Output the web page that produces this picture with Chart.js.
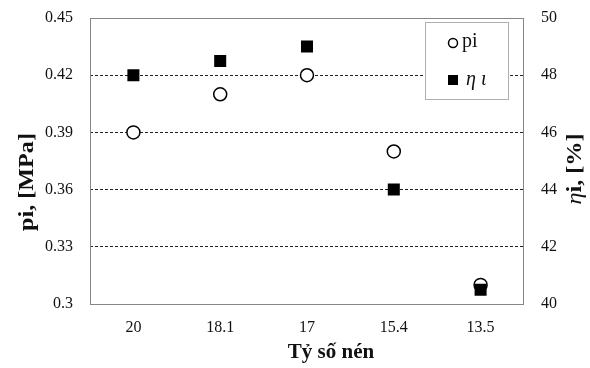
<!DOCTYPE html>
<html>
<head>
<meta charset="utf-8">
<script src="https://cdn.jsdelivr.net/npm/chart.js@4"></script>
<style>
  body { margin: 0; background: #fff; }
</style>
</head>
<body>
<canvas id="chart" width="590" height="368"></canvas>
<script>
const categories = ["20", "18.1", "17", "15.4", "13.5"];
const piValues = [0.39, 0.41, 0.42, 0.38, 0.31];
const etaValues = [48, 48.5, 49, 44, 40.5];
const piTicks = [0.3, 0.33, 0.36, 0.39, 0.42, 0.45];
const etaTicks = [40, 42, 44, 46, 48, 50];

const FONT = "'Liberation Serif', 'Times New Roman', serif";
const STRETCH = 1.15;

/*************************************************************
 * Frame, axis titles and legend box
 *************************************************************/
const chartDecor = {
  id: "chartDecor",
  afterDatasetsDraw(chart) {
    const { ctx, chartArea: a } = chart;
    ctx.save();

    // plot frame
    ctx.strokeStyle = "#868686";
    ctx.lineWidth = 1;
    ctx.strokeRect(a.left + 0.5, a.top + 0.5, a.right - a.left - 1, a.bottom - a.top);

    // legend
    const bx = a.right - 99;
    const by = a.top + 4;
    ctx.fillStyle = "#fff";
    ctx.fillRect(bx, by, 83, 77);
    ctx.strokeStyle = "#b0b0b0";
    ctx.strokeRect(bx + 0.5, by + 0.5, 83, 77);

    ctx.beginPath();
    ctx.arc(bx + 28, by + 21, 4.5, 0, Math.PI * 2);
    ctx.lineWidth = 1.5;
    ctx.strokeStyle = "#000";
    ctx.stroke();
    ctx.fillStyle = "#000";
    ctx.fillRect(bx + 23, by + 53, 10, 10);

    ctx.fillStyle = "#111";
    ctx.textBaseline = "middle";
    ctx.textAlign = "left";
    ctx.font = "20px " + FONT;
    ctx.fillText("pi", bx + 37, by + 20);
    ctx.font = "italic 20px " + FONT;
    ctx.fillText("η ι", bx + 41, by + 58);

    // x title
    ctx.textBaseline = "alphabetic";
    ctx.textAlign = "center";
    ctx.font = "bold 21px " + FONT;
    ctx.fillText("Tỷ số nén", (a.left + a.right) / 2 + 24, 358);

    // left title
    ctx.save();
    ctx.translate(33, 182);
    ctx.rotate(-Math.PI / 2);
    ctx.scale(STRETCH, 1);
    ctx.fillText("pi, [MPa]", 0, 0);
    ctx.restore();

    // right title, η in italic and the rest bold
    ctx.save();
    ctx.translate(581, 169);
    ctx.rotate(-Math.PI / 2);
    ctx.scale(STRETCH, 1);
    ctx.textAlign = "left";
    ctx.font = "italic 21px " + FONT;
    const etaW = ctx.measureText("η").width;
    ctx.font = "bold 21px " + FONT;
    const restW = ctx.measureText("i, [%]").width;
    const start = -(etaW + restW) / 2;
    ctx.font = "italic 21px " + FONT;
    ctx.fillText("η", start, 0);
    ctx.font = "bold 21px " + FONT;
    ctx.fillText("i, [%]", start + etaW, 0);
    ctx.restore();

    ctx.restore();
  },
};

// fixed axis sizes, no extra room for overflowing labels
const fixSize = (size) => (scale) => {
  if (scale.isHorizontal()) {
    scale.height = size;
  } else {
    scale.width = size;
  }
  scale.paddingTop = 0;
  scale.paddingBottom = 0;
  scale.paddingLeft = 0;
  scale.paddingRight = 0;
};

/*************************************************************
 * Chart
 *************************************************************/
const renderChart = () => {
  const ctx = document.getElementById("chart").getContext("2d");

  new Chart(ctx, {
    type: "line",
    data: {
      labels: categories,
      datasets: [
        {
          label: "ηι",
          data: etaValues,
          yAxisID: "y1",
          showLine: false,
          pointStyle: "rect",
          pointRadius: 8.5,
          pointBackgroundColor: "#000",
          pointBorderWidth: 0,
          order: 0,
        },
        {
          label: "pi",
          data: piValues,
          yAxisID: "y",
          showLine: false,
          pointStyle: "circle",
          pointRadius: 6.5,
          pointBackgroundColor: "#fff",
          pointBorderColor: "#000",
          pointBorderWidth: 1.5,
          order: 1,
        },
      ],
    },
    options: {
      responsive: false,
      animation: false,
      layout: { padding: { top: 18, left: 0, right: 0, bottom: 0 } },
      plugins: {
        legend: { display: false },
        tooltip: { enabled: false },
      },
      scales: {
        x: {
          type: "category",
          offset: true,
          grid: { display: false, drawTicks: false },
          border: { display: false },
          ticks: {
            color: "#111",
            padding: 14,
            font: { family: FONT, size: 16 },
          },
          afterFit: fixSize(64),
        },
        y: {
          position: "left",
          min: 0.3,
          max: 0.45,
          afterBuildTicks: (scale) => {
            scale.ticks = piTicks.map((v) => ({ value: v }));
          },
          grid: {
            drawTicks: false,
            lineWidth: 1,
            color: (context) => {
              const v = context.tick ? context.tick.value : null;
              if (v === piTicks[0] || v === piTicks[piTicks.length - 1]) {
                return "rgba(0,0,0,0)";
              }
              return "#222";
            },
          },
          border: { display: false, dash: [3, 2] },
          ticks: {
            color: "#111",
            padding: 17,
            font: { family: FONT, size: 16 },
            callback: (value) => String(+Number(value).toFixed(2)),
          },
          afterFit: fixSize(90),
        },
        y1: {
          position: "right",
          min: 40,
          max: 50,
          afterBuildTicks: (scale) => {
            scale.ticks = etaTicks.map((v) => ({ value: v }));
          },
          grid: { display: false, drawTicks: false },
          border: { display: false },
          ticks: {
            color: "#111",
            padding: 17,
            font: { family: FONT, size: 16 },
          },
          afterFit: fixSize(66),
        },
      },
    },
    plugins: [chartDecor],
  });
};

window.addEventListener("load", () => {
  renderChart();
});
</script>
</body>
</html>
